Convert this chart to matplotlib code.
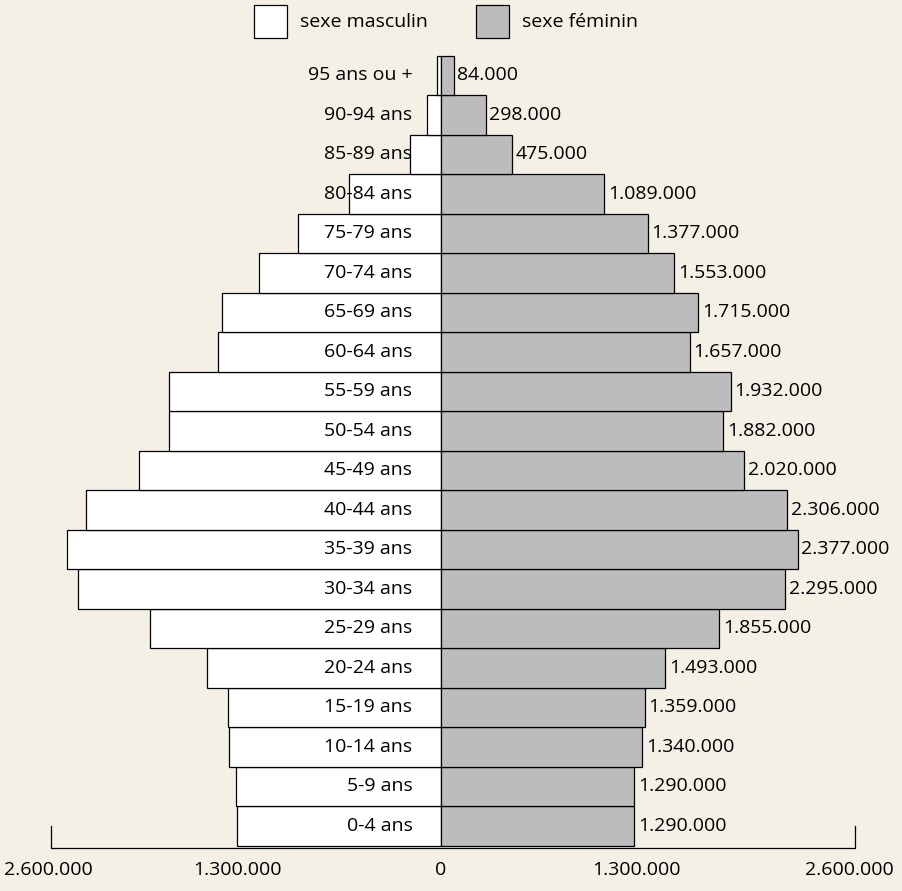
import matplotlib.pyplot as plt
from matplotlib.patches import Rectangle

ages = ["0-4 ans", "5-9 ans", "10-14 ans", "15-19 ans", "20-24 ans", "25-29 ans",
        "30-34 ans", "35-39 ans", "40-44 ans", "45-49 ans", "50-54 ans", "55-59 ans",
        "60-64 ans", "65-69 ans", "70-74 ans", "75-79 ans", "80-84 ans", "85-89 ans",
        "90-94 ans", "95 ans ou +"]
femmes = [1290000, 1290000, 1340000, 1359000, 1493000, 1855000, 2295000, 2377000,
          2306000, 2020000, 1882000, 1932000, 1657000, 1715000, 1553000, 1377000,
          1089000, 475000, 298000, 84000]
# men are not labelled
hommes = [1360000, 1367000, 1413000, 1420000, 1560000, 1940000, 2420000, 2493000,
          2367000, 2013000, 1813000, 1813000, 1487000, 1460000, 1213000, 953000,
          613000, 207000, 93000, 25000]
tick_txt = ["2.600.000", "1.300.000", "0", "1.300.000", "2.600.000"]
tick_pos = [-2.62e6, -1.36e6, 0, 1.3e6, 2.72e6]

bg = "#f4f0e6"
gris = "#bcbcbc"
fs = 14
plt.rcParams['font.family'] = ['Open Sans', 'DejaVu Sans']

fig = plt.figure(figsize=(9.03, 8.91), dpi=100, facecolor=bg)
ax = fig.add_axes([0, 0, 1, 1])
ax.set_facecolor(bg)
ax.set_xlim(-2.94e6, 3.08e6)
ax.set_ylim(-1.646, 20.91)
ax.axis("off")

y = list(range(len(ages)))
ax.barh(y, [-h for h in hommes], height=1.0, color="white", edgecolor="black", linewidth=0.9)
ax.barh(y, femmes, height=1.0, color=gris, edgecolor="black", linewidth=0.9)

for i in y:
    ax.text(-0.19e6, i, ages[i], ha="right", va="center", fontsize=fs)
    lab = format(femmes[i], ",").replace(",", ".")
    ax.text(femmes[i] + 0.025e6, i, lab, ha="left", va="center", fontsize=fs)

# bracket axis at bottom
yb = -0.56
ax.plot([-2.6e6, -2.6e6, 2.76e6, 2.76e6], [0.0, yb, yb, 0.0], color="black", lw=0.9)
for p, t in zip(tick_pos, tick_txt):
    ax.text(p, -1.12, t, ha="center", va="center", fontsize=fs)

# legend
leg = fig.add_axes([0, 0, 1, 1], facecolor="none")
leg.set_xlim(0, 903)
leg.set_ylim(891, 0)
leg.axis("off")
leg.add_patch(Rectangle((254, 5), 33, 33, facecolor="white", edgecolor="black", lw=0.9))
leg.add_patch(Rectangle((476, 5), 33, 33, facecolor=gris, edgecolor="black", lw=0.9))
leg.text(300, 22, "sexe masculin", ha="left", va="center", fontsize=fs)
leg.text(522, 22, "sexe féminin", ha="left", va="center", fontsize=fs)

fig.savefig("out.png", dpi=100, facecolor=bg)
